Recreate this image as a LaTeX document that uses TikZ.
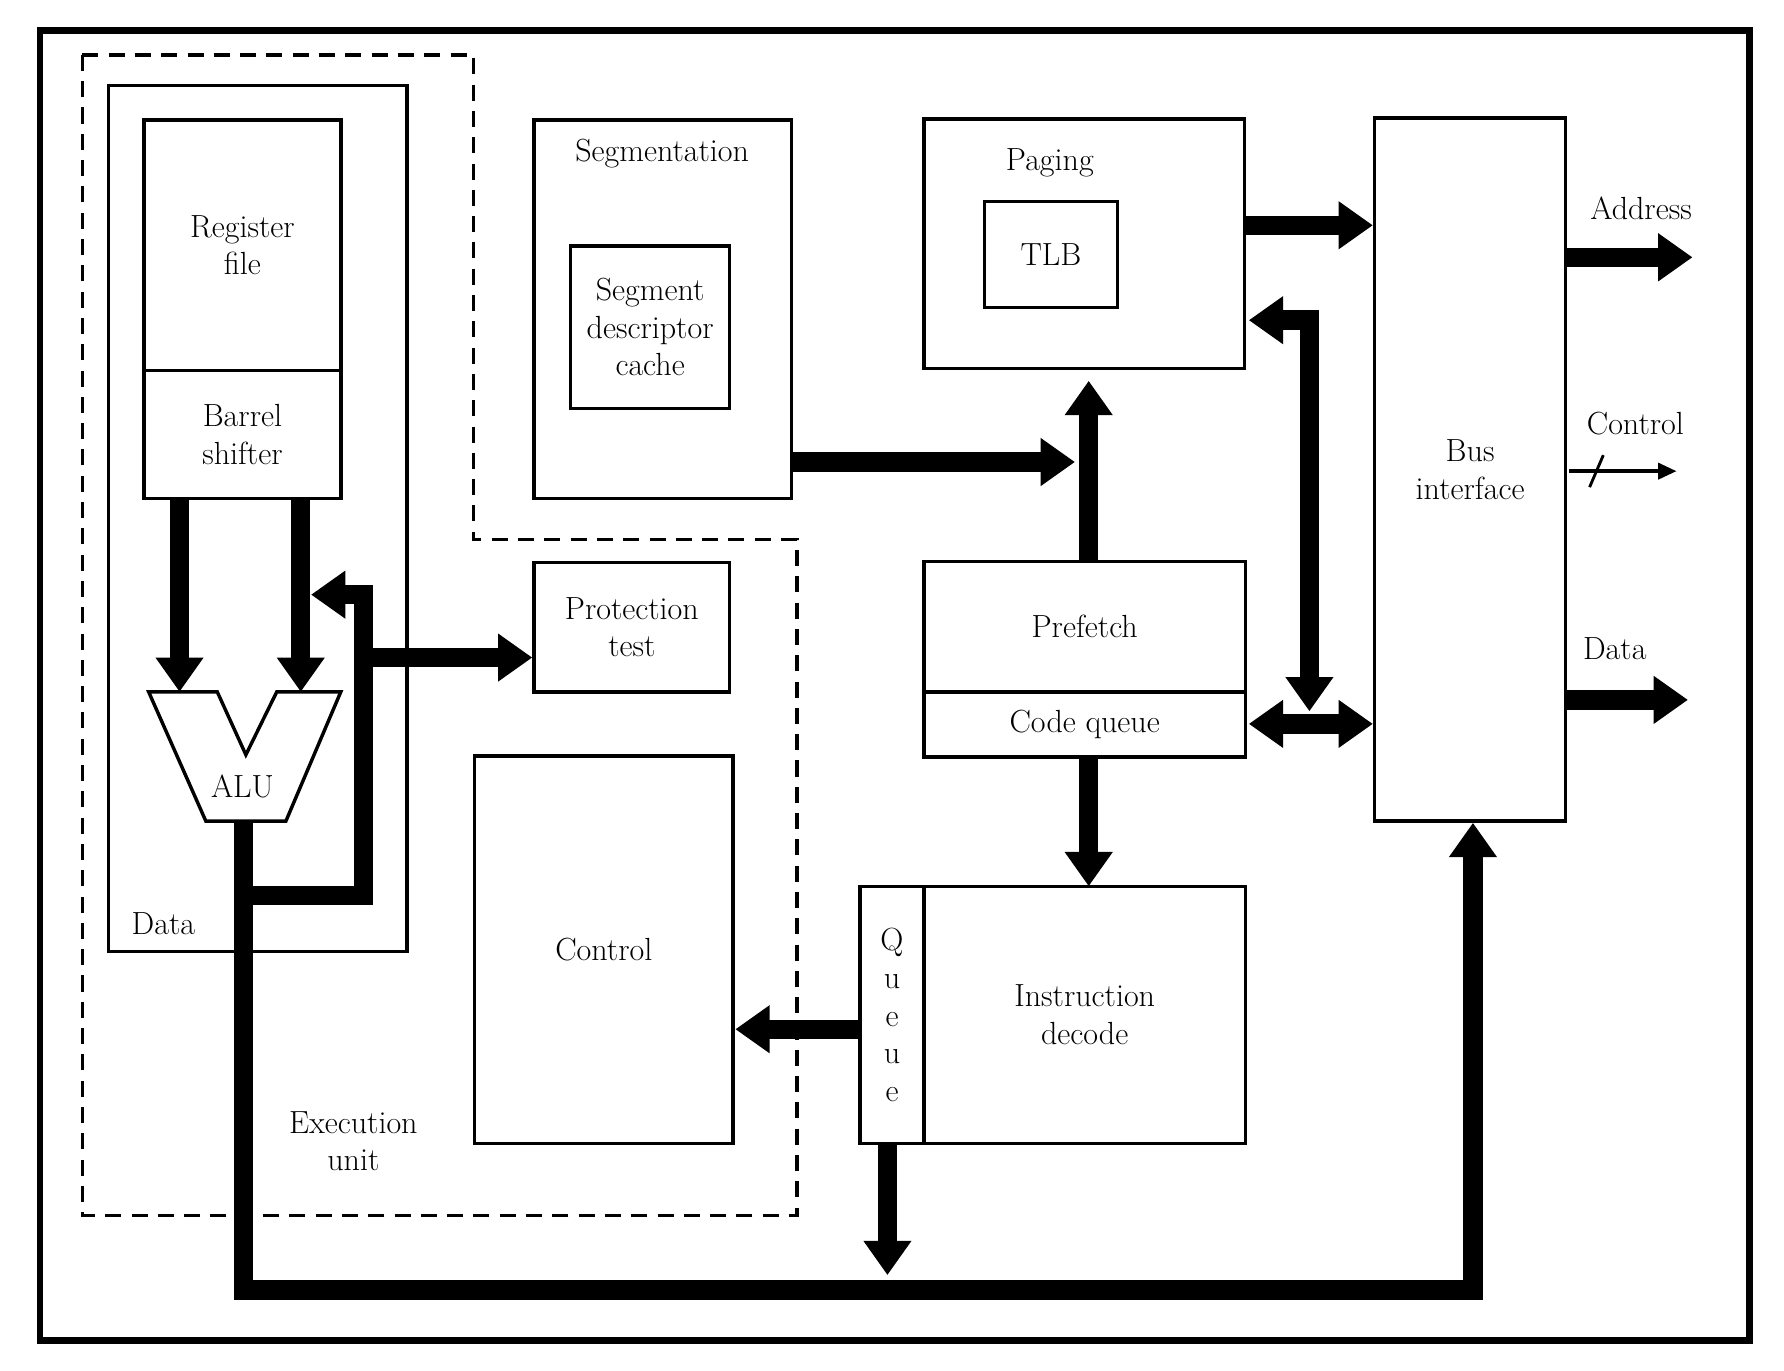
\documentclass[tikz,border=0pt]{standalone}
\usetikzlibrary{arrows.meta}
\begin{document}
\begin{tikzpicture}[x=1pt,y=-1pt,
  box/.style={draw,line width=3pt,inner sep=0pt,align=center,font=\fontsize{28}{33}\selectfont},
  lbl/.style={inner sep=0pt,align=center,font=\fontsize{28}{33}\selectfont},
  big/.style={line width=17pt,-{Triangle[length=30pt,width=40pt]}},
  bigb/.style={line width=17pt,{Triangle[length=30pt,width=40pt]}-{Triangle[length=30pt,width=40pt]}},
  bign/.style={line width=17pt}]
\useasboundingbox (0,0) rectangle (1560,1198);
\fill[white] (0,0) rectangle (1560,1198);
\draw[line width=6pt] (35,27) rectangle (1530,1172);
\draw[line width=3pt,dash pattern=on 14pt off 9pt] (72,48)--(414,48)--(414,472)--(697,472)--(697,1063)--(72,1063)--cycle;
% boxes
\node[box,minimum width=261pt,minimum height=757pt] (data) at (225.5,453.5) {};
\node[lbl,anchor=west] (datal) at (115,808) {Data};
\node[box,minimum width=172pt,minimum height=219pt] (reg) at (212,214.5) {Register\\file};
\node[box,minimum width=172pt,minimum height=112pt] (bar) at (212,380) {Barrel\\shifter};
\node[box,minimum width=225pt,minimum height=331pt] (seg) at (579.5,270.5) {};
\node[lbl] (segl) at (579,134) {Segmentation};
\node[box,minimum width=139pt,minimum height=142pt] (sdc) at (568.5,286) {Segment\\descriptor\\cache};
\node[box,minimum width=171pt,minimum height=113pt] (prot) at (552.5,548.5) {Protection\\test};
\node[box,minimum width=226pt,minimum height=339pt] (ctrl) at (528,830.5) {Control};
\node[lbl] (eu) at (309,998) {Execution\\unit};
\node[box,minimum width=280pt,minimum height=218pt] (pag) at (948,213) {};
\node[lbl] (pagl) at (918,142) {Paging};
\node[box,minimum width=116pt,minimum height=93pt] (tlb) at (919,222.5) {TLB};
\node[box,minimum width=281pt,minimum height=114pt] (pre) at (948.5,548) {Prefetch};
\node[box,minimum width=281pt,minimum height=57pt] (cq) at (948.5,633.5) {Code queue};
\node[box,minimum width=56pt,minimum height=225pt] (que) at (780,887.5) {Q\\u\\e\\u\\e};
\node[box,minimum width=281pt,minimum height=225pt] (idec) at (948.5,887.5) {Instruction\\decode};
\node[box,minimum width=167pt,minimum height=615pt] (bus) at (1285.5,410.5) {Bus\\interface};
% ALU
\draw[line width=3pt] (130,605)--(190,605)--(215,660)--(242,605)--(298,605)--(250,718)--(180,718)--cycle;
\node[lbl] (alu) at (212,688) {ALU};
\coordinate (aluout) at (213,718);
% arrows
\draw[big] (157,436)--(157,605);
\draw[big] (263,436)--(263,605);
\draw[big] (aluout)--(213,1128)--(1288,1128)--(bus.south -| 1288,0);
\coordinate (br) at (213,783);
\draw[big] (br)--(318,783)--(318,520)--(272,520);
\draw[big] (318,575)--(prot.west |- 0,575);
\draw[big] (seg.east |- 0,404)--(940,404);
\draw[big] (pre.north -| 952,0)--(952,333);
\draw[big] (cq.south -| 952,0)--(952,775);
\draw[big] (que.west |- 0,900)--(643,900);
\draw[big] (que.south -| 776,0)--(776,1115);
\draw[big] (pag.east |- 0,197)--(bus.west |- 0,197);
\draw[bigb] (1092,280)--(1145,280)--(1145,622);
\draw[bigb] (1092,633)--(bus.west |- 0,633);
\draw[big] (bus.east |- 0,225)--(1480,225);
\node[lbl] (addr) at (1435,182) {Address};
\draw[line width=3pt,-{Triangle[length=16pt,width=14pt]}] (1372,412)--(1466,412);
\draw[line width=2.5pt] (1390,426)--(1402,398);
\node[lbl] (ctl) at (1430,370) {Control};
\draw[big] (bus.east |- 0,612)--(1476,612);
\node[lbl] (dat) at (1412,567) {Data};
\end{tikzpicture}
\end{document}
